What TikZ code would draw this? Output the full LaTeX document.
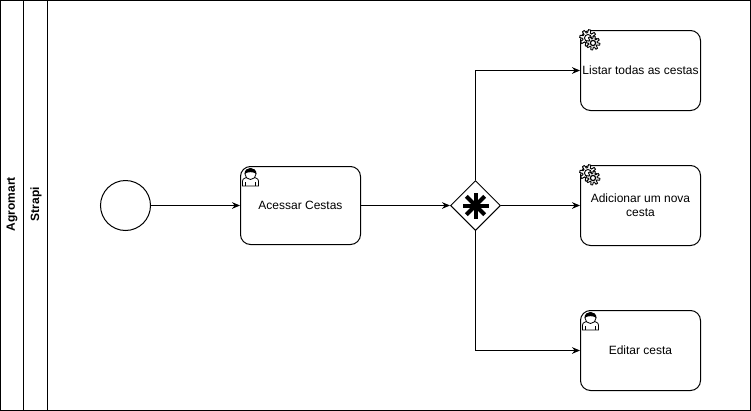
\documentclass[tikz,border=0pt]{standalone}
\usepackage{fontspec}
\setmainfont{Liberation Sans}
\usetikzlibrary{arrows.meta,shapes.geometric}
\tikzset{
  task/.style={draw, rounded corners=7.5pt, minimum width=90pt, minimum height=60pt, align=center, inner sep=1pt, font=\fontsize{9}{10.5}\selectfont, line width=0.75pt},
  flow/.style={-{Stealth[length=6pt,width=5pt]}, line width=0.75pt},
  lane/.style={draw, line width=0.75pt, fill=white},
  lanetext/.style={rotate=90, font=\fontsize{9}{11}\selectfont\bfseries},
  usericon/.pic={
    \draw [line width=0.6pt, fill=white] (-8,9) -- (-8,4) .. controls (-8,1) and (-4,1) .. (-3,0) -- (3,0) .. controls (4,1) and (8,1) .. (8,4) -- (8,9) -- cycle;
    \draw [line width=0.6pt, fill=white] (0,-3) circle (5.5);
    \fill (-6,-3) .. controls (-6,-11) and (6,-11) .. (6,-3) .. controls (3,-5.5) and (-3,-5.5) .. (-6,-3) -- cycle;
    \draw [line width=0.6pt] (-5,5) -- (-5,9) (5,5) -- (5,9);
  },
  gearicon/.pic={
    \draw [line width=0.7pt, fill=white] plot [domain=0:360, samples=97] (\x:{6.8+1.5*sign(sin(8*\x))}) -- cycle;
    \draw [line width=0.7pt] (0,0) circle (3.5);
    \draw [line width=0.7pt, fill=white, shift={(5,5)}] plot [domain=0:360, samples=97] (\x:{5.6+1.3*sign(sin(8*\x))}) -- cycle;
    \draw [line width=0.9pt, fill=white] (5,5) circle (2.6);
  }
}
\begin{document}
\begin{tikzpicture}[x=0.75pt, y=-0.75pt]
\useasboundingbox (0,0) rectangle (751,411);
% lanes
\draw [lane] (0.5,0.5) rectangle (750.5,410.5);
\draw [lane] (23.5,0.5) rectangle (47.5,410.5);
\node [lanetext] (agromart) at (12,204) {Agromart};
\node [lanetext] (strapi) at (36,204) {Strapi};
% flow nodes
\node [draw, circle, line width=0.75pt, minimum size=37.5pt, inner sep=0pt] (start) at (125.5,205.5) {};
\node [task, minimum height=58.5pt] (acessar) at (300.5,205.5) {Acessar Cestas};
\node [draw, diamond, line width=0.75pt, minimum size=37.5pt, inner sep=0pt, aspect=1] (gateway) at (475.5,205.5) {};
\node [task] (listar) at (640.5,70.5) {Listar todas as cestas};
\node [task] (adicionar) at (640.5,205.5) {Adicionar um nova\\cesta};
\node [task] (editar) at (640.5,350.5) {Editar cesta};
\foreach \a in {0,45,135,90}
  \draw [line width=3pt] (gateway.center) ++(\a:13) -- ++(\a+180:26);
% connectors
\draw [flow] (start) -- (acessar);
\draw [flow] (acessar) -- (gateway);
\draw [flow] (gateway) -- (adicionar);
\draw [flow] (gateway) |- (listar);
\draw [flow] (gateway) |- (editar);
% icons
\pic at (250.5,177) {usericon};
\pic at (588,38) {gearicon};
\pic at (588,173) {gearicon};
\pic at (590.5,321) {usericon};
\end{tikzpicture}
\end{document}
